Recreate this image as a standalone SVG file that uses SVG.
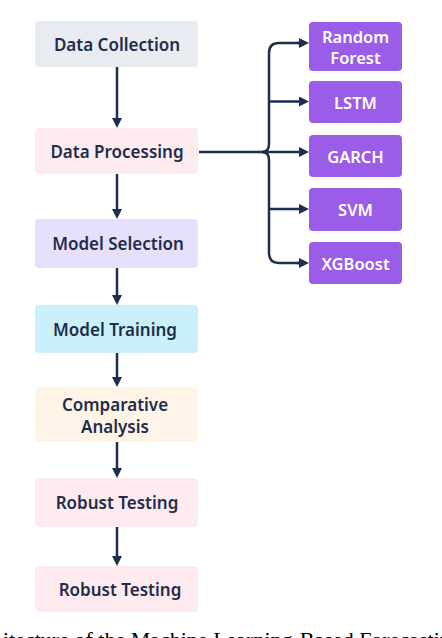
<svg xmlns="http://www.w3.org/2000/svg" width="442" height="638" viewBox="0 0 442 638">
<style>
.node rect{rx:4;ry:4}
.lbl{font-family:"Noto Sans","Open Sans",sans-serif;font-weight:600;font-size:17px;fill:#1f2d4a;text-anchor:middle;dominant-baseline:central}
.plbl{font-family:"Noto Sans","Open Sans",sans-serif;font-weight:600;font-size:16.5px;fill:#ffffff;text-anchor:middle;dominant-baseline:central}
.pbox{fill:#9b5de8}
.conn{stroke:#1e2f4d;stroke-width:2.5;fill:none}
.cap{font-family:"Liberation Serif","Times New Roman",serif;font-size:22px;fill:#000}
</style>
<defs>
<marker id="ah" markerUnits="userSpaceOnUse" markerWidth="11" markerHeight="11" refX="0" refY="5" orient="auto">
<path d="M0,0 L10,5 L0,10 z" fill="#1e2f4d"/>
</marker>
</defs>
<rect width="442" height="638" fill="#ffffff"/>
<g id="data-collection" class="node"><rect x="35" y="21" width="163" height="46" fill="#e8ebf0"/><text class="lbl" x="117" y="44">Data Collection</text></g>
<g id="data-processing" class="node"><rect x="35" y="128" width="163" height="46" fill="#fdebf0"/><text class="lbl" x="117" y="151">Data Processing</text></g>
<g id="model-selection" class="node"><rect x="35" y="219" width="163" height="49" fill="#e7e0fd"/><text class="lbl" x="118" y="243.5">Model Selection</text></g>
<g id="model-training" class="node"><rect x="35" y="305" width="163" height="48" fill="#caf0fc"/><text class="lbl" x="115" y="329">Model Training</text></g>
<g id="comparative-analysis" class="node"><rect x="35" y="387" width="163" height="55" fill="#fef4e7"/><text class="lbl" x="115" y="404">Comparative</text><text class="lbl" x="115" y="426">Analysis</text></g>
<g id="robust-testing-1" class="node"><rect x="35" y="478" width="163" height="49" fill="#fdebf0"/><text class="lbl" x="117" y="502">Robust Testing</text></g>
<g id="robust-testing-2" class="node"><rect x="35" y="566" width="163" height="46" fill="#fdebf0"/><text class="lbl" x="120" y="589">Robust Testing</text></g>
<g id="random-forest" class="node"><rect class="pbox" x="309" y="22" width="93" height="49"/><text class="plbl" x="355.5" y="36.5">Random</text><text class="plbl" x="355.5" y="57">Forest</text></g>
<g id="lstm" class="node"><rect class="pbox" x="309" y="81" width="93" height="42"/><text class="plbl" x="355.5" y="102">LSTM</text></g>
<g id="garch" class="node"><rect class="pbox" x="309" y="135" width="93" height="42"/><text class="plbl" x="355.5" y="156">GARCH</text></g>
<g id="svm" class="node"><rect class="pbox" x="309" y="188" width="93" height="43"/><text class="plbl" x="355.5" y="209.5">SVM</text></g>
<g id="xgboost" class="node"><rect class="pbox" x="309" y="242" width="93" height="42"/><text class="plbl" x="355.5" y="263">XGBoost</text></g>
<g id="connectors">
<line class="conn" x1="117" y1="67" x2="117" y2="118" marker-end="url(#ah)"/>
<line class="conn" x1="117" y1="174" x2="117" y2="209" marker-end="url(#ah)"/>
<line class="conn" x1="117" y1="268" x2="117" y2="295" marker-end="url(#ah)"/>
<line class="conn" x1="117" y1="353" x2="117" y2="377" marker-end="url(#ah)"/>
<line class="conn" x1="117" y1="442" x2="117" y2="468" marker-end="url(#ah)"/>
<line class="conn" x1="117" y1="527" x2="117" y2="556" marker-end="url(#ah)"/>
<line class="conn" x1="199" y1="152" x2="299" y2="152" marker-end="url(#ah)"/>
<path class="conn" d="M299,43 H279 Q269,43 269,53 V144 Q269,152 262,152 Q269,152 269,160 V253 Q269,263 279,263 H299"/>
<path class="conn" d="M297,43 H299" marker-end="url(#ah)"/>
<path class="conn" d="M297,263 H299" marker-end="url(#ah)"/>
<line class="conn" x1="269" y1="101.5" x2="299" y2="101.5" marker-end="url(#ah)"/>
<line class="conn" x1="269" y1="209" x2="299" y2="209" marker-end="url(#ah)"/>
</g>
<text class="cap" x="3" y="647">itecture of the Machine Learning-Based Forecasting</text>
</svg>
